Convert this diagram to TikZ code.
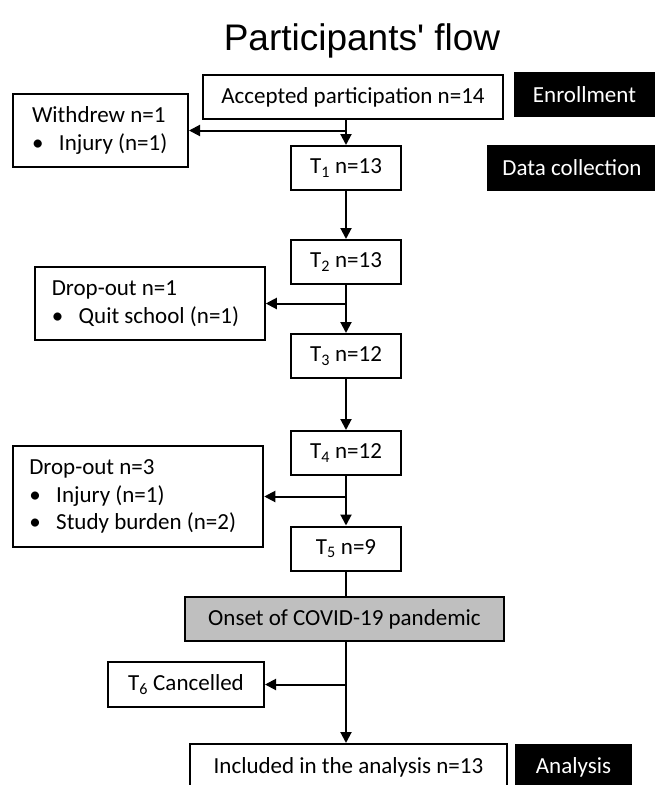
\documentclass[tikz,border=0pt]{standalone}
\usepackage{fontspec}
\usepackage{xcolor}
\setmainfont{Carlito}
\newfontfamily\titlefont{Liberation Sans}
\usetikzlibrary{arrows.meta}
\usetikzlibrary{calc}
\definecolor{onsetgray}{RGB}{191,191,191}
\newcommand{\bodyfont}{\fontsize{23}{27.5}\selectfont}
\newcommand{\bul}{\makebox[27pt][l]{\textbullet}}

\begin{document}
\begin{tikzpicture}[x=1pt,y=-1pt,
    box/.style={draw,line width=2pt,rectangle,inner sep=0pt,font=\bodyfont},
    tbox/.style={box,minimum width=110pt,minimum height=44pt},
    lbox/.style={box,align=flush left,inner ysep=0pt},
    tag/.style={fill=black,text=white,rectangle,inner sep=0pt,font=\bodyfont},
    arr/.style={line width=2pt,-{Triangle[length=11pt,width=11pt]}},
    ln/.style={line width=2pt}]
    \useasboundingbox (0,0) rectangle (655,785);

    \node[font=\titlefont\fontsize{37}{40}\selectfont,anchor=base] (title) at (362,50) {Participants' flow};

    % main column
    \node[box,minimum width=300pt,minimum height=44pt] (accepted) at (353,97) {Accepted participation n=14};
    \node[tbox] (t1) at (346,168) {T\textsubscript{1} n=13};
    \node[tbox] (t2) at (346,262) {T\textsubscript{2} n=13};
    \node[tbox] (t3) at (346,356) {T\textsubscript{3} n=12};
    \node[tbox] (t4) at (346,453) {T\textsubscript{4} n=12};
    \node[tbox] (t5) at (346,548.5) {T\textsubscript{5} n=9};
    \node[box,fill=onsetgray,minimum width=319pt,minimum height=44pt] (onset) at (344.5,619) {Onset of COVID-19 pandemic};
    \node[box,minimum width=317pt,minimum height=46pt] (included) at (348.5,767) {Included in the analysis n=13};

    % side boxes
    \node[lbox,text width=137pt,inner xsep=19pt,minimum height=73pt] (withdrew) at (100.5,130.5)
    {Withdrew n=1\\\mbox{\bul Injury (n=1)}};
    \node[lbox,text width=196.5pt,inner xsep=16.5pt,minimum height=73pt] (drop1) at (150,303.5)
    {Drop-out n=1\\\mbox{\bul Quit school (n=1)}};
    \node[lbox,text width=217.5pt,inner xsep=16.5pt,minimum height=101pt] (drop3) at (138,496.5)
    {Drop-out n=3\\\mbox{\bul Injury (n=1)}\\\mbox{\bul Study burden (n=2)}};
    \node[box,minimum width=156pt,minimum height=45pt] (cancel) at (186,684.5) {T\textsubscript{6} Cancelled};

    % stage labels
    \node[tag,minimum width=141pt,minimum height=45pt] (enroll) at (584.5,94.5) {Enrollment};
    \node[tag,minimum width=170pt,minimum height=46pt] (collect) at (572,168) {Data collection};
    \node[tag,minimum width=117pt,minimum height=46pt] (analysis) at (573.5,767) {Analysis};

    \draw[arr] (t1.north |- accepted.south) -- (t1.north);
    \draw[arr] (t1.north |- withdrew.east) -- (withdrew.east);
    \foreach \a/\b in {t1/t2,t2/t3,t3/t4,t4/t5}
        \draw[arr] (\a) -- (\b);
    \draw[arr] (t2.south |- drop1.east) -- (drop1.east);
    \draw[arr] (t4.south |- drop3.east) -- (drop3.east);
    \draw[ln] (t5.south) -- (t5.south |- onset.north);
    \draw[arr] (t5.south |- onset.south) -- (t5.south |- included.north);
    \draw[arr] (t5.south |- cancel.east) -- (cancel.east);
\end{tikzpicture}
\end{document}
